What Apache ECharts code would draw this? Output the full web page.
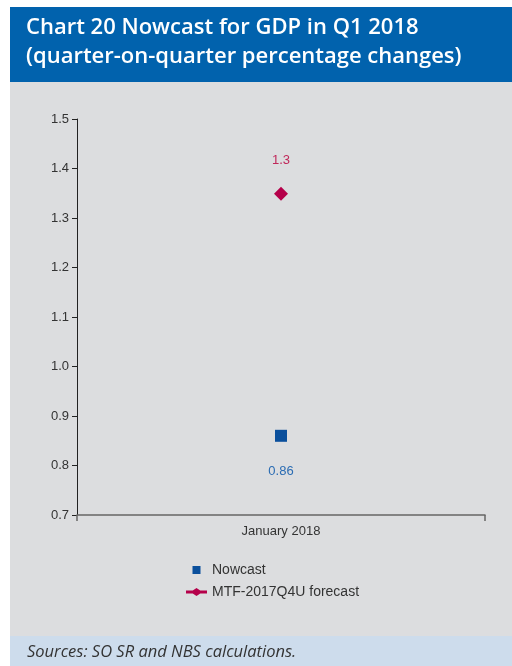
<!DOCTYPE html>
<html>
<head>
<meta charset="utf-8">
<script src="https://cdn.jsdelivr.net/npm/echarts@6/dist/echarts.min.js"></script>
<style>
  html, body { margin: 0; padding: 0; background: #ffffff; }
  #chart { width: 512px; height: 666px; }
</style>
</head>
<body>
<div id="chart"></div>
<script>
// Chart content
const titleLines = ['Chart 20 Nowcast for GDP in Q1 2018', '(quarter-on-quarter percentage changes)'];
const sourceNote = 'Sources: SO SR and NBS calculations.';
const categories = ['January 2018'];
const nowcastName = 'Nowcast';
const nowcastValues = [0.86];
const forecastName = 'MTF-2017Q4U forecast';
const forecastValues = [1.349];
const yMin = 0.7;
const yMax = 1.5;
const yStep = 0.1;

const chartFont = '"Liberation Sans", Arial, sans-serif';

// Legend glyphs: a small square, and a thick line carrying a flattened diamond
const squareIcon = 'path://M0,0h8v8h-8z';
const lineDiamondIcon = 'path://M0,2.5L6.75,2.5L10.5,0L14.25,2.5L21,2.5L21,5.5L14.25,5.5L10.5,8L6.75,5.5L0,5.5Z';

const chart = echarts.init(document.getElementById('chart'), null, { renderer: 'canvas' });

chart.setOption({
  animation: false,
  backgroundColor: '#ffffff',
  graphic: [
    { type: 'rect', z: -10, silent: true, shape: { x: 10, y: 81, width: 502, height: 555 }, style: { fill: '#dcdddf' } },
    { type: 'rect', z: -10, silent: true, shape: { x: 10, y: 7, width: 502, height: 75 }, style: { fill: '#0162ad' } },
    { type: 'rect', z: -10, silent: true, shape: { x: 10, y: 636, width: 502, height: 30 }, style: { fill: '#cddcec' } },
    { type: 'text', z: 10, left: 26, top: 17, style: { text: titleLines[0], fill: '#ffffff', font: '600 22px "Open Sans", sans-serif' } },
    { type: 'text', z: 10, left: 26, top: 46, style: { text: titleLines[1], fill: '#ffffff', font: '600 22px "Open Sans", sans-serif' } },
    { type: 'text', z: 10, left: 27, top: 644, style: { text: sourceNote, fill: '#333333', font: 'italic 16.5px "Open Sans", sans-serif' } }
  ],
  grid: { left: 77, right: 27, top: 119, bottom: 151, containLabel: false },
  legend: {
    orient: 'vertical',
    left: 186,
    top: 563,
    padding: 0,
    itemWidth: 21,
    itemHeight: 8,
    itemGap: 8,
    textStyle: { fontFamily: chartFont, fontSize: 14, color: '#333333' },
    data: [
      { name: nowcastName, icon: squareIcon },
      { name: forecastName, icon: lineDiamondIcon }
    ]
  },
  xAxis: {
    type: 'category',
    data: categories,
    boundaryGap: true,
    axisLine: { show: true, lineStyle: { color: '#666666', width: 1.5 } },
    axisTick: { show: true, alignWithLabel: false, length: 6, lineStyle: { color: '#666666', width: 1.5 } },
    axisLabel: { fontFamily: chartFont, fontSize: 13, color: '#333333', margin: 10 },
    splitLine: { show: false }
  },
  yAxis: {
    type: 'value',
    min: yMin,
    max: yMax,
    interval: yStep,
    axisLine: { show: true, lineStyle: { color: '#222222', width: 1 } },
    axisTick: { show: true, inside: false, length: 5, lineStyle: { color: '#222222' } },
    axisLabel: {
      fontFamily: chartFont, fontSize: 13, color: '#333333', margin: 8,
      formatter: v => v.toFixed(1)
    },
    splitLine: { show: false }
  },
  series: [
    {
      name: nowcastName,
      type: 'scatter',
      data: nowcastValues,
      symbol: 'rect',
      symbolSize: 12,
      itemStyle: { color: '#0a4f9c', opacity: 1 },
      label: {
        show: true,
        position: 'bottom',
        distance: 23,
        fontFamily: chartFont,
        fontSize: 13,
        color: '#2b6cb3',
        formatter: p => p.value.toFixed(2)
      }
    },
    {
      name: forecastName,
      type: 'line',
      data: forecastValues,
      symbol: 'diamond',
      symbolSize: 14,
      showSymbol: true,
      lineStyle: { color: '#b5004a', width: 3 },
      itemStyle: { color: '#b5004a' },
      label: {
        show: true,
        position: 'top',
        distance: 20,
        fontFamily: chartFont,
        fontSize: 13,
        color: '#c0285a',
        formatter: p => p.value.toFixed(1)
      }
    }
  ]
});
</script>
</body>
</html>
